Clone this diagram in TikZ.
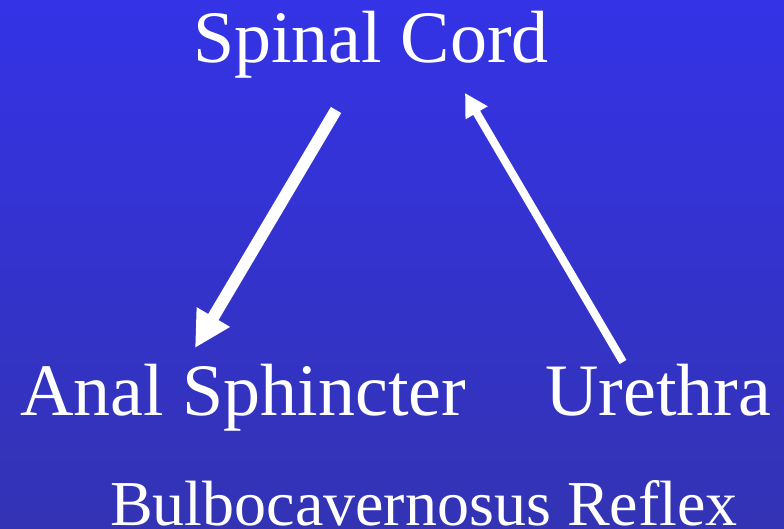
\documentclass[tikz,border=0pt]{standalone}
\usepackage{fontspec}
\setmainfont{Liberation Serif}
\usetikzlibrary{arrows.meta}
\definecolor{bgtop}{RGB}{52,51,230}
\definecolor{bgbot}{RGB}{51,51,180}
\tikzset{
  lbl/.style={text=white, inner sep=0pt, anchor=base west, font=\fontsize{74}{80}\selectfont},
  smalllbl/.style={text=white, inner sep=0pt, anchor=base west, font=\fontsize{64}{70}\selectfont},
  bigarrow/.style={draw=white, line width=12pt, -{Triangle[length=36pt,width=36pt]}},
  thinarrow/.style={draw=white, line width=8pt, -{Triangle[length=23pt,width=24pt]}}
}
\begin{document}
\begin{tikzpicture}[x=1pt,y=1pt]
\shade[top color=bgtop, bottom color=bgbot] (0,0) rectangle (784,528);
\useasboundingbox (0,0) rectangle (784,528);
\node[lbl] (spinal) at (193,465) {Spinal Cord};
\node[lbl] (anal) at (20,113) {Anal Sphincter};
\node[lbl] (ureth) at (545,113) {Urethra};
\node[smalllbl] (bulbo) at (110,3) {Bulbocavernosus Reflex};
\coordinate (a1s) at (336,418);
\coordinate (a1e) at (195,180);
\coordinate (a2s) at (623,166);
\coordinate (a2e) at (465,435);
\draw[bigarrow] (a1s) -- (a1e);
\draw[thinarrow] (a2s) -- (a2e);
\end{tikzpicture}
\end{document}
